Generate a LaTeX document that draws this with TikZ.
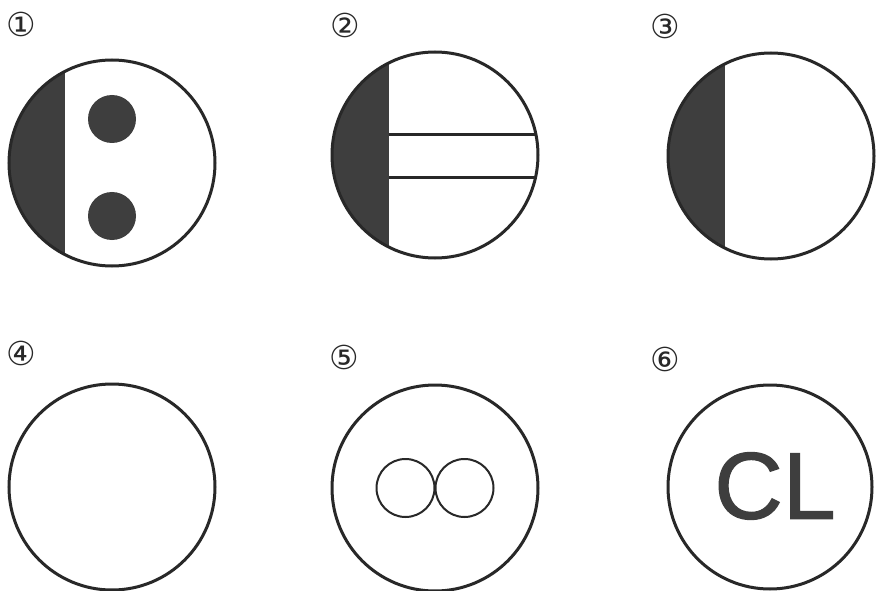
\documentclass[tikz,border=0pt]{standalone}
\usepackage{fontspec}
\setmainfont{Liberation Serif}
\newfontfamily\symfont{DejaVu Sans}
\newfontfamily\clfont[FakeBold=1.2]{Liberation Sans}
\definecolor{ink}{RGB}{40,40,40}
\definecolor{darkfill}{RGB}{62,62,62}
\begin{document}
\begin{tikzpicture}[x=1pt,y=-1pt,
  outer/.style={draw=ink,line width=3pt},
  innerc/.style={draw=ink,line width=2pt},
  lbl/.style={font=\symfont\fontsize{33}{33}\selectfont,text=ink,inner sep=0pt}]
\useasboundingbox (0,0) rectangle (876,591);
\fill[white] (0,0) rectangle (876,591);
% labels
\node[lbl] (l1) at (21,24) {①};
\node[lbl] (l2) at (345,25) {②};
\node[lbl] (l3) at (665,26) {③};
\node[lbl] (l4) at (21,353) {④};
\node[lbl] (l5) at (344,357) {⑤};
\node[lbl] (l6) at (665,359) {⑥};
% 1
\begin{scope}
  \clip (112,163) circle (103);
  \fill[darkfill] (0,50) rectangle (65,280);
\end{scope}
\fill[darkfill] (112,119) circle (24);
\fill[darkfill] (112,216) circle (24);
\draw[outer] (112,163) circle (103);
% 2
\begin{scope}
  \clip (435,155) circle (103);
  \fill[darkfill] (320,40) rectangle (389,270);
  \draw[ink,line width=3pt] (389,135) -- (560,135);
  \draw[ink,line width=3pt] (389,178) -- (560,178);
\end{scope}
\draw[outer] (435,155) circle (103);
% 3
\begin{scope}
  \clip (771,156) circle (103);
  \fill[darkfill] (660,40) rectangle (725,270);
\end{scope}
\draw[outer] (771,156) circle (103);
% 4
\draw[outer] (112,487) circle (103);
% 5
\draw[outer] (435,488) circle (103);
\draw[innerc] (405.5,488) circle (29);
\draw[innerc] (464.5,488) circle (29);
% 6
\draw[outer] (770,487) circle (102);
\node[font=\clfont\fontsize{95}{95}\selectfont,text=darkfill,inner sep=0pt] (cl) at (775,486) {CL};
\end{tikzpicture}
\end{document}
